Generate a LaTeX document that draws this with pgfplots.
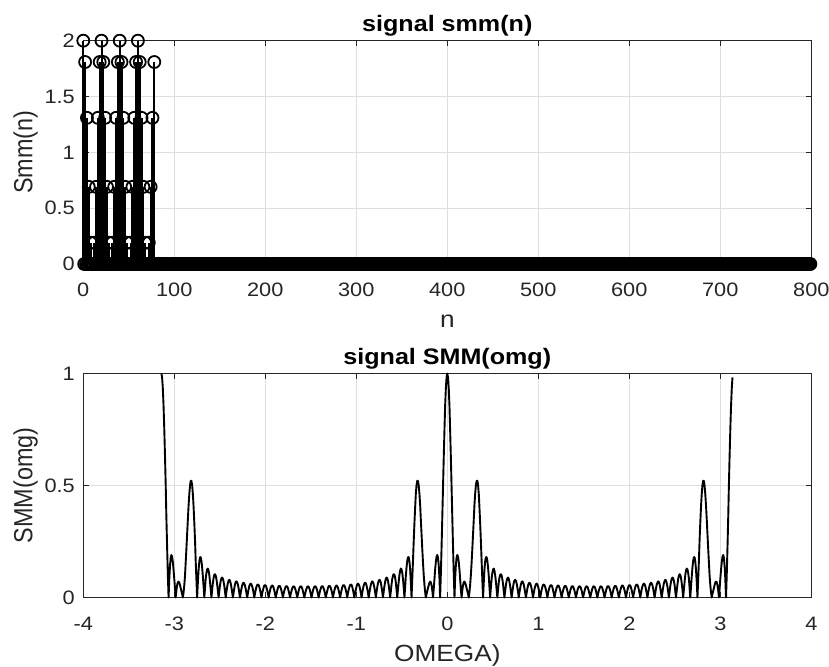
\documentclass[border=0pt]{standalone}
\usepackage{fontspec}
\setmainfont{Liberation Sans}[FakeStretch=1.12]
\newfontfamily\plainsans{Liberation Sans}
\usepackage{graphicx}
\usepackage{pgfplots}
\pgfplotsset{compat=1.18}
\definecolor{axgray}{RGB}{38,38,38}
\definecolor{gridgray}{RGB}{222,222,222}
\pgfplotsset{
 matlab/.style={
  scale only axis, width=728bp,
  axis line style={draw=axgray, line width=0.9bp},
  tick style={draw=axgray, line width=0.9bp},
  major tick length=5.5bp,
  tick align=inside, tick pos=both,
  grid=major, major grid style={draw=gridgray, line width=0.9bp},
  /pgf/number format/assume math mode=true,
  tick label style={font=\fontsize{19.5}{23}\selectfont, text=axgray},
  xticklabel style={anchor=base, yshift=-33bp},
  yticklabel style={anchor=east, xshift=-5bp},
  every axis x label/.style={at={(axis description cs:0.5,0)}, anchor=base, yshift=-64bp, font=\fontsize{23.5}{28}\selectfont, text=axgray},
  every axis y label/.style={at={(axis description cs:-0.0700,0.5)}, rotate=90, anchor=base, font=\plainsans\fontsize{23.5}{28}\selectfont, text=axgray},
  every axis title/.style={at={(axis description cs:0.5,1)}, anchor=base, yshift=9bp, font=\bfseries\fontsize{22.5}{26}\selectfont, text=black},
  clip=false,
 }
}
\begin{document}
\begin{tikzpicture}
\begin{axis}[matlab, height=223.3bp, at={(83.3bp,403bp)}, anchor=south west,
  xmin=0, xmax=800, ymin=0, ymax=2,
  xtick={0,100,200,300,400,500,600,700,800}, ytick={0,0.5,1,1.5,2},
  title={signal smm(n)}, xlabel={n}, ylabel={\scalebox{1}[1.12]{Smm(n)}}]
\addplot[ycomb, black, line width=2bp, mark=o, mark size=6bp, mark options={solid, line width=1.8bp}] coordinates {
(0,2)(1,0)(2,1.809)(3,0)(4,1.309)(5,0)(6,0.691)(7,0)(8,0.191)(9,0)(10,0)(11,0)(12,0.191)(13,0)(14,0.691)(15,0)(16,1.309)(17,0)(18,1.809)(19,0)
(20,2)(21,0)(22,1.809)(23,0)(24,1.309)(25,0)(26,0.691)(27,0)(28,0.191)(29,0)(30,0)(31,0)(32,0.191)(33,0)(34,0.691)(35,0)(36,1.309)(37,0)(38,1.809)(39,0)
(40,2)(41,0)(42,1.809)(43,0)(44,1.309)(45,0)(46,0.691)(47,0)(48,0.191)(49,0)(50,0)(51,0)(52,0.191)(53,0)(54,0.691)(55,0)(56,1.309)(57,0)(58,1.809)(59,0)
(60,2)(61,0)(62,1.809)(63,0)(64,1.309)(65,0)(66,0.691)(67,0)(68,0.191)(69,0)(70,0)(71,0)(72,0.191)(73,0)(74,0.691)(75,0)(76,1.309)(77,0)(78,1.809)(79,0)
(80,0)(81,0)(82,0)(83,0)(84,0)(85,0)(86,0)(87,0)(88,0)(89,0)(90,0)(91,0)(92,0)(93,0)(94,0)(95,0)(96,0)(97,0)(98,0)(99,0)
(100,0)(101,0)(102,0)(103,0)(104,0)(105,0)(106,0)(107,0)(108,0)(109,0)(110,0)(111,0)(112,0)(113,0)(114,0)(115,0)(116,0)(117,0)(118,0)(119,0)
(120,0)(121,0)(122,0)(123,0)(124,0)(125,0)(126,0)(127,0)(128,0)(129,0)(130,0)(131,0)(132,0)(133,0)(134,0)(135,0)(136,0)(137,0)(138,0)(139,0)
(140,0)(141,0)(142,0)(143,0)(144,0)(145,0)(146,0)(147,0)(148,0)(149,0)(150,0)(151,0)(152,0)(153,0)(154,0)(155,0)(156,0)(157,0)(158,0)(159,0)
(160,0)(161,0)(162,0)(163,0)(164,0)(165,0)(166,0)(167,0)(168,0)(169,0)(170,0)(171,0)(172,0)(173,0)(174,0)(175,0)(176,0)(177,0)(178,0)(179,0)
(180,0)(181,0)(182,0)(183,0)(184,0)(185,0)(186,0)(187,0)(188,0)(189,0)(190,0)(191,0)(192,0)(193,0)(194,0)(195,0)(196,0)(197,0)(198,0)(199,0)
(200,0)(201,0)(202,0)(203,0)(204,0)(205,0)(206,0)(207,0)(208,0)(209,0)(210,0)(211,0)(212,0)(213,0)(214,0)(215,0)(216,0)(217,0)(218,0)(219,0)
(220,0)(221,0)(222,0)(223,0)(224,0)(225,0)(226,0)(227,0)(228,0)(229,0)(230,0)(231,0)(232,0)(233,0)(234,0)(235,0)(236,0)(237,0)(238,0)(239,0)
(240,0)(241,0)(242,0)(243,0)(244,0)(245,0)(246,0)(247,0)(248,0)(249,0)(250,0)(251,0)(252,0)(253,0)(254,0)(255,0)(256,0)(257,0)(258,0)(259,0)
(260,0)(261,0)(262,0)(263,0)(264,0)(265,0)(266,0)(267,0)(268,0)(269,0)(270,0)(271,0)(272,0)(273,0)(274,0)(275,0)(276,0)(277,0)(278,0)(279,0)
(280,0)(281,0)(282,0)(283,0)(284,0)(285,0)(286,0)(287,0)(288,0)(289,0)(290,0)(291,0)(292,0)(293,0)(294,0)(295,0)(296,0)(297,0)(298,0)(299,0)
(300,0)(301,0)(302,0)(303,0)(304,0)(305,0)(306,0)(307,0)(308,0)(309,0)(310,0)(311,0)(312,0)(313,0)(314,0)(315,0)(316,0)(317,0)(318,0)(319,0)
(320,0)(321,0)(322,0)(323,0)(324,0)(325,0)(326,0)(327,0)(328,0)(329,0)(330,0)(331,0)(332,0)(333,0)(334,0)(335,0)(336,0)(337,0)(338,0)(339,0)
(340,0)(341,0)(342,0)(343,0)(344,0)(345,0)(346,0)(347,0)(348,0)(349,0)(350,0)(351,0)(352,0)(353,0)(354,0)(355,0)(356,0)(357,0)(358,0)(359,0)
(360,0)(361,0)(362,0)(363,0)(364,0)(365,0)(366,0)(367,0)(368,0)(369,0)(370,0)(371,0)(372,0)(373,0)(374,0)(375,0)(376,0)(377,0)(378,0)(379,0)
(380,0)(381,0)(382,0)(383,0)(384,0)(385,0)(386,0)(387,0)(388,0)(389,0)(390,0)(391,0)(392,0)(393,0)(394,0)(395,0)(396,0)(397,0)(398,0)(399,0)
(400,0)(401,0)(402,0)(403,0)(404,0)(405,0)(406,0)(407,0)(408,0)(409,0)(410,0)(411,0)(412,0)(413,0)(414,0)(415,0)(416,0)(417,0)(418,0)(419,0)
(420,0)(421,0)(422,0)(423,0)(424,0)(425,0)(426,0)(427,0)(428,0)(429,0)(430,0)(431,0)(432,0)(433,0)(434,0)(435,0)(436,0)(437,0)(438,0)(439,0)
(440,0)(441,0)(442,0)(443,0)(444,0)(445,0)(446,0)(447,0)(448,0)(449,0)(450,0)(451,0)(452,0)(453,0)(454,0)(455,0)(456,0)(457,0)(458,0)(459,0)
(460,0)(461,0)(462,0)(463,0)(464,0)(465,0)(466,0)(467,0)(468,0)(469,0)(470,0)(471,0)(472,0)(473,0)(474,0)(475,0)(476,0)(477,0)(478,0)(479,0)
(480,0)(481,0)(482,0)(483,0)(484,0)(485,0)(486,0)(487,0)(488,0)(489,0)(490,0)(491,0)(492,0)(493,0)(494,0)(495,0)(496,0)(497,0)(498,0)(499,0)
(500,0)(501,0)(502,0)(503,0)(504,0)(505,0)(506,0)(507,0)(508,0)(509,0)(510,0)(511,0)(512,0)(513,0)(514,0)(515,0)(516,0)(517,0)(518,0)(519,0)
(520,0)(521,0)(522,0)(523,0)(524,0)(525,0)(526,0)(527,0)(528,0)(529,0)(530,0)(531,0)(532,0)(533,0)(534,0)(535,0)(536,0)(537,0)(538,0)(539,0)
(540,0)(541,0)(542,0)(543,0)(544,0)(545,0)(546,0)(547,0)(548,0)(549,0)(550,0)(551,0)(552,0)(553,0)(554,0)(555,0)(556,0)(557,0)(558,0)(559,0)
(560,0)(561,0)(562,0)(563,0)(564,0)(565,0)(566,0)(567,0)(568,0)(569,0)(570,0)(571,0)(572,0)(573,0)(574,0)(575,0)(576,0)(577,0)(578,0)(579,0)
(580,0)(581,0)(582,0)(583,0)(584,0)(585,0)(586,0)(587,0)(588,0)(589,0)(590,0)(591,0)(592,0)(593,0)(594,0)(595,0)(596,0)(597,0)(598,0)(599,0)
(600,0)(601,0)(602,0)(603,0)(604,0)(605,0)(606,0)(607,0)(608,0)(609,0)(610,0)(611,0)(612,0)(613,0)(614,0)(615,0)(616,0)(617,0)(618,0)(619,0)
(620,0)(621,0)(622,0)(623,0)(624,0)(625,0)(626,0)(627,0)(628,0)(629,0)(630,0)(631,0)(632,0)(633,0)(634,0)(635,0)(636,0)(637,0)(638,0)(639,0)
(640,0)(641,0)(642,0)(643,0)(644,0)(645,0)(646,0)(647,0)(648,0)(649,0)(650,0)(651,0)(652,0)(653,0)(654,0)(655,0)(656,0)(657,0)(658,0)(659,0)
(660,0)(661,0)(662,0)(663,0)(664,0)(665,0)(666,0)(667,0)(668,0)(669,0)(670,0)(671,0)(672,0)(673,0)(674,0)(675,0)(676,0)(677,0)(678,0)(679,0)
(680,0)(681,0)(682,0)(683,0)(684,0)(685,0)(686,0)(687,0)(688,0)(689,0)(690,0)(691,0)(692,0)(693,0)(694,0)(695,0)(696,0)(697,0)(698,0)(699,0)
(700,0)(701,0)(702,0)(703,0)(704,0)(705,0)(706,0)(707,0)(708,0)(709,0)(710,0)(711,0)(712,0)(713,0)(714,0)(715,0)(716,0)(717,0)(718,0)(719,0)
(720,0)(721,0)(722,0)(723,0)(724,0)(725,0)(726,0)(727,0)(728,0)(729,0)(730,0)(731,0)(732,0)(733,0)(734,0)(735,0)(736,0)(737,0)(738,0)(739,0)
(740,0)(741,0)(742,0)(743,0)(744,0)(745,0)(746,0)(747,0)(748,0)(749,0)(750,0)(751,0)(752,0)(753,0)(754,0)(755,0)(756,0)(757,0)(758,0)(759,0)
(760,0)(761,0)(762,0)(763,0)(764,0)(765,0)(766,0)(767,0)(768,0)(769,0)(770,0)(771,0)(772,0)(773,0)(774,0)(775,0)(776,0)(777,0)(778,0)(779,0)
(780,0)(781,0)(782,0)(783,0)(784,0)(785,0)(786,0)(787,0)(788,0)(789,0)(790,0)(791,0)(792,0)(793,0)(794,0)(795,0)(796,0)(797,0)(798,0)(799,0)
};
\end{axis}
\begin{axis}[matlab, height=224bp, at={(83.3bp,69.5bp)}, anchor=south west,
  xmin=-4, xmax=4, ymin=0, ymax=1,
  xtick={-4,-3,-2,-1,0,1,2,3,4}, ytick={0,0.5,1},
  title={signal SMM(omg)}, xlabel={OMEGA)}, ylabel={\scalebox{1}[1.12]{SMM(omg)}}]
\addplot[black, line width=1.9bp, line join=round] coordinates {
(-3.142,1.000)
(-3.134,0.983)(-3.126,0.933)(-3.118,0.854)(-3.110,0.750)(-3.102,0.628)(-3.094,0.494)(-3.087,0.358)(-3.079,0.225)(-3.071,0.104)(-3.063,0)
(-3.055,0.083)(-3.047,0.143)(-3.039,0.178)(-3.032,0.190)(-3.024,0.182)(-3.016,0.158)(-3.008,0.123)(-3.000,0.082)(-2.992,0.039)(-2.985,0)
(-2.977,0.032)(-2.969,0.055)(-2.961,0.068)(-2.953,0.071)(-2.945,0.066)(-2.937,0.055)(-2.930,0.042)(-2.922,0.029)(-2.914,0.016)(-2.906,0)
(-2.898,0.023)(-2.890,0.056)(-2.882,0.100)(-2.875,0.155)(-2.867,0.217)(-2.859,0.283)(-2.851,0.349)(-2.843,0.411)(-2.835,0.462)(-2.827,0.500)
(-2.820,0.520)(-2.812,0.521)(-2.804,0.502)(-2.796,0.462)(-2.788,0.405)(-2.780,0.333)(-2.772,0.252)(-2.765,0.165)(-2.757,0.080)(-2.749,0)
(-2.741,0.069)(-2.733,0.124)(-2.725,0.161)(-2.717,0.180)(-2.710,0.180)(-2.702,0.164)(-2.694,0.134)(-2.686,0.094)(-2.678,0.048)(-2.670,0)
(-2.662,0.045)(-2.655,0.083)(-2.647,0.110)(-2.639,0.126)(-2.631,0.129)(-2.623,0.120)(-2.615,0.100)(-2.608,0.071)(-2.600,0.036)(-2.592,0)
(-2.584,0.035)(-2.576,0.065)(-2.568,0.088)(-2.560,0.101)(-2.553,0.104)(-2.545,0.098)(-2.537,0.082)(-2.529,0.058)(-2.521,0.030)(-2.513,0)
(-2.505,0.029)(-2.498,0.055)(-2.490,0.074)(-2.482,0.086)(-2.474,0.089)(-2.466,0.084)(-2.458,0.070)(-2.450,0.050)(-2.443,0.026)(-2.435,0)
(-2.427,0.026)(-2.419,0.048)(-2.411,0.065)(-2.403,0.076)(-2.395,0.079)(-2.388,0.074)(-2.380,0.063)(-2.372,0.045)(-2.364,0.023)(-2.356,0)
(-2.348,0.023)(-2.340,0.043)(-2.333,0.059)(-2.325,0.069)(-2.317,0.072)(-2.309,0.067)(-2.301,0.057)(-2.293,0.041)(-2.286,0.021)(-2.278,0)
(-2.270,0.021)(-2.262,0.040)(-2.254,0.054)(-2.246,0.063)(-2.238,0.066)(-2.231,0.062)(-2.223,0.053)(-2.215,0.038)(-2.207,0.020)(-2.199,0)
(-2.191,0.020)(-2.183,0.037)(-2.176,0.051)(-2.168,0.059)(-2.160,0.062)(-2.152,0.058)(-2.144,0.049)(-2.136,0.036)(-2.128,0.019)(-2.121,0)
(-2.113,0.018)(-2.105,0.035)(-2.097,0.048)(-2.089,0.056)(-2.081,0.058)(-2.073,0.055)(-2.066,0.047)(-2.058,0.034)(-2.050,0.018)(-2.042,0)
(-2.034,0.018)(-2.026,0.033)(-2.018,0.045)(-2.011,0.053)(-2.003,0.056)(-1.995,0.053)(-1.987,0.045)(-1.979,0.032)(-1.971,0.017)(-1.963,0)
(-1.956,0.017)(-1.948,0.032)(-1.940,0.044)(-1.932,0.051)(-1.924,0.054)(-1.916,0.051)(-1.909,0.043)(-1.901,0.031)(-1.893,0.016)(-1.885,0)
(-1.877,0.016)(-1.869,0.031)(-1.861,0.042)(-1.854,0.050)(-1.846,0.052)(-1.838,0.050)(-1.830,0.042)(-1.822,0.030)(-1.814,0.016)(-1.806,0)
(-1.799,0.016)(-1.791,0.030)(-1.783,0.041)(-1.775,0.049)(-1.767,0.051)(-1.759,0.049)(-1.751,0.041)(-1.744,0.030)(-1.736,0.016)(-1.728,0)
(-1.720,0.016)(-1.712,0.030)(-1.704,0.041)(-1.696,0.048)(-1.689,0.050)(-1.681,0.048)(-1.673,0.041)(-1.665,0.030)(-1.657,0.016)(-1.649,0)
(-1.641,0.015)(-1.634,0.029)(-1.626,0.041)(-1.618,0.048)(-1.610,0.050)(-1.602,0.048)(-1.594,0.040)(-1.587,0.029)(-1.579,0.015)(-1.571,0)
(-1.563,0.015)(-1.555,0.029)(-1.547,0.040)(-1.539,0.048)(-1.532,0.050)(-1.524,0.048)(-1.516,0.041)(-1.508,0.029)(-1.500,0.015)(-1.492,0)
(-1.484,0.016)(-1.477,0.030)(-1.469,0.041)(-1.461,0.048)(-1.453,0.050)(-1.445,0.048)(-1.437,0.041)(-1.429,0.030)(-1.422,0.016)(-1.414,0)
(-1.406,0.016)(-1.398,0.030)(-1.390,0.041)(-1.382,0.049)(-1.374,0.051)(-1.367,0.049)(-1.359,0.041)(-1.351,0.030)(-1.343,0.016)(-1.335,0)
(-1.327,0.016)(-1.319,0.030)(-1.312,0.042)(-1.304,0.050)(-1.296,0.052)(-1.288,0.050)(-1.280,0.042)(-1.272,0.031)(-1.264,0.016)(-1.257,0)
(-1.249,0.016)(-1.241,0.031)(-1.233,0.043)(-1.225,0.051)(-1.217,0.054)(-1.210,0.051)(-1.202,0.044)(-1.194,0.032)(-1.186,0.017)(-1.178,0)
(-1.170,0.017)(-1.162,0.032)(-1.155,0.045)(-1.147,0.053)(-1.139,0.056)(-1.131,0.053)(-1.123,0.045)(-1.115,0.033)(-1.107,0.018)(-1.100,0)
(-1.092,0.018)(-1.084,0.034)(-1.076,0.047)(-1.068,0.055)(-1.060,0.058)(-1.052,0.056)(-1.045,0.048)(-1.037,0.035)(-1.029,0.018)(-1.021,0)
(-1.013,0.019)(-1.005,0.036)(-0.997,0.049)(-0.990,0.058)(-0.982,0.062)(-0.974,0.059)(-0.966,0.051)(-0.958,0.037)(-0.950,0.020)(-0.942,0)
(-0.935,0.020)(-0.927,0.038)(-0.919,0.053)(-0.911,0.062)(-0.903,0.066)(-0.895,0.063)(-0.888,0.054)(-0.880,0.040)(-0.872,0.021)(-0.864,0)
(-0.856,0.021)(-0.848,0.041)(-0.840,0.057)(-0.833,0.067)(-0.825,0.072)(-0.817,0.069)(-0.809,0.059)(-0.801,0.043)(-0.793,0.023)(-0.785,0)
(-0.778,0.023)(-0.770,0.045)(-0.762,0.063)(-0.754,0.074)(-0.746,0.079)(-0.738,0.076)(-0.730,0.065)(-0.723,0.048)(-0.715,0.026)(-0.707,0)
(-0.699,0.026)(-0.691,0.050)(-0.683,0.070)(-0.675,0.084)(-0.668,0.089)(-0.660,0.086)(-0.652,0.074)(-0.644,0.055)(-0.636,0.029)(-0.628,0)
(-0.620,0.030)(-0.613,0.058)(-0.605,0.082)(-0.597,0.098)(-0.589,0.104)(-0.581,0.101)(-0.573,0.088)(-0.565,0.065)(-0.558,0.035)(-0.550,0)
(-0.542,0.036)(-0.534,0.071)(-0.526,0.100)(-0.518,0.120)(-0.511,0.129)(-0.503,0.126)(-0.495,0.110)(-0.487,0.083)(-0.479,0.045)(-0.471,0)
(-0.463,0.048)(-0.456,0.094)(-0.448,0.134)(-0.440,0.164)(-0.432,0.180)(-0.424,0.180)(-0.416,0.161)(-0.408,0.124)(-0.401,0.069)(-0.393,0)
(-0.385,0.080)(-0.377,0.165)(-0.369,0.252)(-0.361,0.333)(-0.353,0.405)(-0.346,0.462)(-0.338,0.502)(-0.330,0.521)(-0.322,0.520)(-0.314,0.500)
(-0.306,0.462)(-0.298,0.411)(-0.291,0.349)(-0.283,0.283)(-0.275,0.217)(-0.267,0.155)(-0.259,0.100)(-0.251,0.056)(-0.243,0.023)(-0.236,0)
(-0.228,0.016)(-0.220,0.029)(-0.212,0.042)(-0.204,0.055)(-0.196,0.066)(-0.188,0.071)(-0.181,0.068)(-0.173,0.055)(-0.165,0.032)(-0.157,0)
(-0.149,0.039)(-0.141,0.082)(-0.134,0.123)(-0.126,0.158)(-0.118,0.182)(-0.110,0.190)(-0.102,0.178)(-0.094,0.143)(-0.086,0.083)(-0.079,0)
(-0.071,0.104)(-0.063,0.225)(-0.055,0.358)(-0.047,0.494)(-0.039,0.628)(-0.031,0.750)(-0.024,0.854)(-0.016,0.933)(-0.008,0.983)
(0,1.000)
(0.008,0.983)(0.016,0.933)(0.024,0.854)(0.031,0.750)(0.039,0.628)(0.047,0.494)(0.055,0.358)(0.063,0.225)(0.071,0.104)
(0.079,0)(0.086,0.083)(0.094,0.143)(0.102,0.178)(0.110,0.190)(0.118,0.182)(0.126,0.158)(0.134,0.123)(0.141,0.082)(0.149,0.039)
(0.157,0)(0.165,0.032)(0.173,0.055)(0.181,0.068)(0.188,0.071)(0.196,0.066)(0.204,0.055)(0.212,0.042)(0.220,0.029)(0.228,0.016)
(0.236,0)(0.243,0.023)(0.251,0.056)(0.259,0.100)(0.267,0.155)(0.275,0.217)(0.283,0.283)(0.291,0.349)(0.298,0.411)(0.306,0.462)
(0.314,0.500)(0.322,0.520)(0.330,0.521)(0.338,0.502)(0.346,0.462)(0.353,0.405)(0.361,0.333)(0.369,0.252)(0.377,0.165)(0.385,0.080)
(0.393,0)(0.401,0.069)(0.408,0.124)(0.416,0.161)(0.424,0.180)(0.432,0.180)(0.440,0.164)(0.448,0.134)(0.456,0.094)(0.463,0.048)
(0.471,0)(0.479,0.045)(0.487,0.083)(0.495,0.110)(0.503,0.126)(0.511,0.129)(0.518,0.120)(0.526,0.100)(0.534,0.071)(0.542,0.036)
(0.550,0)(0.558,0.035)(0.565,0.065)(0.573,0.088)(0.581,0.101)(0.589,0.104)(0.597,0.098)(0.605,0.082)(0.613,0.058)(0.620,0.030)
(0.628,0)(0.636,0.029)(0.644,0.055)(0.652,0.074)(0.660,0.086)(0.668,0.089)(0.675,0.084)(0.683,0.070)(0.691,0.050)(0.699,0.026)
(0.707,0)(0.715,0.026)(0.723,0.048)(0.730,0.065)(0.738,0.076)(0.746,0.079)(0.754,0.074)(0.762,0.063)(0.770,0.045)(0.778,0.023)
(0.785,0)(0.793,0.023)(0.801,0.043)(0.809,0.059)(0.817,0.069)(0.825,0.072)(0.833,0.067)(0.840,0.057)(0.848,0.041)(0.856,0.021)
(0.864,0)(0.872,0.021)(0.880,0.040)(0.888,0.054)(0.895,0.063)(0.903,0.066)(0.911,0.062)(0.919,0.053)(0.927,0.038)(0.935,0.020)
(0.942,0)(0.950,0.020)(0.958,0.037)(0.966,0.051)(0.974,0.059)(0.982,0.062)(0.990,0.058)(0.997,0.049)(1.005,0.036)(1.013,0.019)
(1.021,0)(1.029,0.018)(1.037,0.035)(1.045,0.048)(1.052,0.056)(1.060,0.058)(1.068,0.055)(1.076,0.047)(1.084,0.034)(1.092,0.018)
(1.100,0)(1.107,0.018)(1.115,0.033)(1.123,0.045)(1.131,0.053)(1.139,0.056)(1.147,0.053)(1.155,0.045)(1.162,0.032)(1.170,0.017)
(1.178,0)(1.186,0.017)(1.194,0.032)(1.202,0.044)(1.210,0.051)(1.217,0.054)(1.225,0.051)(1.233,0.043)(1.241,0.031)(1.249,0.016)
(1.257,0)(1.264,0.016)(1.272,0.031)(1.280,0.042)(1.288,0.050)(1.296,0.052)(1.304,0.050)(1.312,0.042)(1.319,0.030)(1.327,0.016)
(1.335,0)(1.343,0.016)(1.351,0.030)(1.359,0.041)(1.367,0.049)(1.374,0.051)(1.382,0.049)(1.390,0.041)(1.398,0.030)(1.406,0.016)
(1.414,0)(1.422,0.016)(1.429,0.030)(1.437,0.041)(1.445,0.048)(1.453,0.050)(1.461,0.048)(1.469,0.041)(1.477,0.030)(1.484,0.016)
(1.492,0)(1.500,0.015)(1.508,0.029)(1.516,0.041)(1.524,0.048)(1.532,0.050)(1.539,0.048)(1.547,0.040)(1.555,0.029)(1.563,0.015)
(1.571,0)(1.579,0.015)(1.587,0.029)(1.594,0.040)(1.602,0.048)(1.610,0.050)(1.618,0.048)(1.626,0.041)(1.634,0.029)(1.641,0.015)
(1.649,0)(1.657,0.016)(1.665,0.030)(1.673,0.041)(1.681,0.048)(1.689,0.050)(1.696,0.048)(1.704,0.041)(1.712,0.030)(1.720,0.016)
(1.728,0)(1.736,0.016)(1.744,0.030)(1.751,0.041)(1.759,0.049)(1.767,0.051)(1.775,0.049)(1.783,0.041)(1.791,0.030)(1.799,0.016)
(1.806,0)(1.814,0.016)(1.822,0.030)(1.830,0.042)(1.838,0.050)(1.846,0.052)(1.854,0.050)(1.861,0.042)(1.869,0.031)(1.877,0.016)
(1.885,0)(1.893,0.016)(1.901,0.031)(1.909,0.043)(1.916,0.051)(1.924,0.054)(1.932,0.051)(1.940,0.044)(1.948,0.032)(1.956,0.017)
(1.963,0)(1.971,0.017)(1.979,0.032)(1.987,0.045)(1.995,0.053)(2.003,0.056)(2.011,0.053)(2.018,0.045)(2.026,0.033)(2.034,0.018)
(2.042,0)(2.050,0.018)(2.058,0.034)(2.066,0.047)(2.073,0.055)(2.081,0.058)(2.089,0.056)(2.097,0.048)(2.105,0.035)(2.113,0.018)
(2.121,0)(2.128,0.019)(2.136,0.036)(2.144,0.049)(2.152,0.058)(2.160,0.062)(2.168,0.059)(2.176,0.051)(2.183,0.037)(2.191,0.020)
(2.199,0)(2.207,0.020)(2.215,0.038)(2.223,0.053)(2.231,0.062)(2.238,0.066)(2.246,0.063)(2.254,0.054)(2.262,0.040)(2.270,0.021)
(2.278,0)(2.286,0.021)(2.293,0.041)(2.301,0.057)(2.309,0.067)(2.317,0.072)(2.325,0.069)(2.333,0.059)(2.340,0.043)(2.348,0.023)
(2.356,0)(2.364,0.023)(2.372,0.045)(2.380,0.063)(2.388,0.074)(2.395,0.079)(2.403,0.076)(2.411,0.065)(2.419,0.048)(2.427,0.026)
(2.435,0)(2.443,0.026)(2.450,0.050)(2.458,0.070)(2.466,0.084)(2.474,0.089)(2.482,0.086)(2.490,0.074)(2.498,0.055)(2.505,0.029)
(2.513,0)(2.521,0.030)(2.529,0.058)(2.537,0.082)(2.545,0.098)(2.553,0.104)(2.560,0.101)(2.568,0.088)(2.576,0.065)(2.584,0.035)
(2.592,0)(2.600,0.036)(2.608,0.071)(2.615,0.100)(2.623,0.120)(2.631,0.129)(2.639,0.126)(2.647,0.110)(2.655,0.083)(2.662,0.045)
(2.670,0)(2.678,0.048)(2.686,0.094)(2.694,0.134)(2.702,0.164)(2.710,0.180)(2.717,0.180)(2.725,0.161)(2.733,0.124)(2.741,0.069)
(2.749,0)(2.757,0.080)(2.765,0.165)(2.772,0.252)(2.780,0.333)(2.788,0.405)(2.796,0.462)(2.804,0.502)(2.812,0.521)(2.820,0.520)
(2.827,0.500)(2.835,0.462)(2.843,0.411)(2.851,0.349)(2.859,0.283)(2.867,0.217)(2.875,0.155)(2.882,0.100)(2.890,0.056)(2.898,0.023)
(2.906,0)(2.914,0.016)(2.922,0.029)(2.930,0.042)(2.937,0.055)(2.945,0.066)(2.953,0.071)(2.961,0.068)(2.969,0.055)(2.977,0.032)
(2.985,0)(2.992,0.039)(3.000,0.082)(3.008,0.123)(3.016,0.158)(3.024,0.182)(3.032,0.190)(3.039,0.178)(3.047,0.143)(3.055,0.083)
(3.063,0)(3.071,0.104)(3.079,0.225)(3.087,0.358)(3.094,0.494)(3.102,0.628)(3.110,0.750)(3.118,0.854)(3.126,0.933)(3.134,0.983)
};
\end{axis}
\pgfresetboundingbox
\path[use as bounding box] (0,0) rectangle (829bp,667bp);
\end{tikzpicture}
\end{document}
